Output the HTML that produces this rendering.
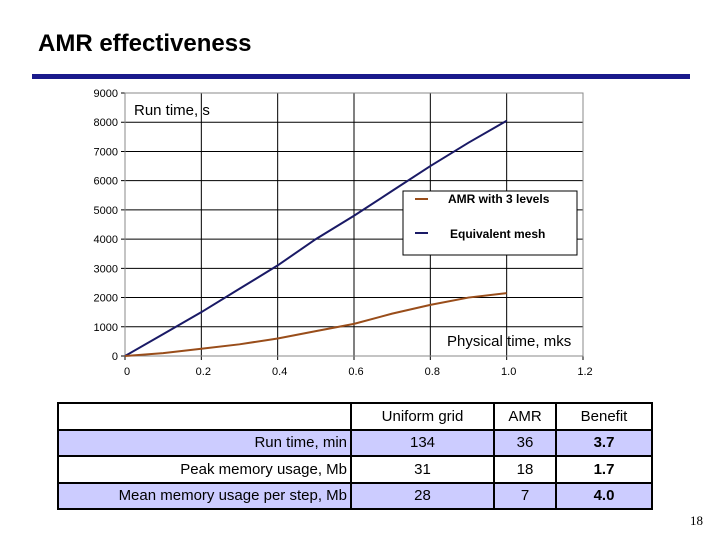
<!DOCTYPE html>
<html><head><meta charset="utf-8"><style>
body{margin:0;width:720px;height:540px;background:#fff;position:relative;font-family:"Liberation Sans",sans-serif;overflow:hidden}
#title{position:absolute;left:38px;top:30px;font-size:24px;font-weight:bold;color:#000}
#rule{position:absolute;left:32px;top:74px;width:658px;height:5px;background:#1a1a8c}
table{position:absolute;left:57px;top:402px;border-collapse:collapse;font-size:15px;table-layout:fixed;width:594px}
td{border:2px solid #000;height:26.5px;padding:0 3px;text-align:center;box-sizing:border-box;white-space:nowrap}
tr.h td{background:#ccccff}
#pg{position:absolute;left:690px;top:513px;font-family:"Liberation Serif",serif;font-size:13px}
</style></head><body>
<div id="title">AMR effectiveness</div>
<div id="rule"></div>
<svg id="chart" width="720" height="400" style="position:absolute;left:0;top:0" font-family="Liberation Sans, sans-serif"></svg>
<table>
<colgroup><col style="width:293px"><col style="width:143px"><col style="width:62px"><col style="width:96px"></colgroup>
<tr><td></td><td>Uniform grid</td><td>AMR</td><td>Benefit</td></tr>
<tr class="h"><td style="text-align:right">Run time, min</td><td>134</td><td>36</td><td><b>3.7</b></td></tr>
<tr><td style="text-align:right">Peak memory usage, Mb</td><td>31</td><td>18</td><td><b>1.7</b></td></tr>
<tr class="h"><td style="text-align:right">Mean memory usage per step, Mb</td><td>28</td><td>7</td><td><b>4.0</b></td></tr>
</table>
<div id="pg">18</div>
<script>
const xTicks=[0,0.2,0.4,0.6,0.8,1.0,1.2];
const xTickLabels=["0","0.2","0.4","0.6","0.8","1.0","1.2"];
const yTicks=[0,1000,2000,3000,4000,5000,6000,7000,8000,9000];
const xs=[0,0.1,0.2,0.3,0.4,0.5,0.6,0.7,0.8,0.9,1.0];
const amr=[0,100,250,400,600,850,1100,1450,1750,2000,2150];
const equiv=[0,750,1500,2300,3100,4000,4800,5650,6500,7300,8050];
const X=v=>125+v/1.2*458, Y=v=>356-v/9000*263;
const svg=document.getElementById('chart');
const NS='http://www.w3.org/2000/svg';
function mk(t,a,txt){const e=document.createElementNS(NS,t);for(const k in a)e.setAttribute(k,a[k]);if(txt!==undefined)e.textContent=txt;svg.appendChild(e);return e;}
yTicks.forEach(v=>{const g=mk('line',{x1:121,x2:583,y1:Y(v),y2:Y(v),stroke:'#000','stroke-width':1});


const t=mk('text',{x:118,y:Y(v)+4,'text-anchor':'end','font-size':11},String(v));

});
xTicks.forEach((v,i)=>{const g=mk('line',{x1:X(v),x2:X(v),y1:Y(9000),y2:360,stroke:'#000','stroke-width':1});


const t=mk('text',{x:X(v)+2,y:375,'text-anchor':'middle','font-size':11},xTickLabels[i]);

});
mk('rect',{x:125,y:Y(9000),width:458,height:263,fill:'none',stroke:'#888'});
const l1=mk('polyline',{points:xs.map((x,i)=>X(x)+','+Y(equiv[i])).join(' '),fill:'none',stroke:'#1a1a66','stroke-width':2});


const l2=mk('polyline',{points:xs.map((x,i)=>X(x)+','+Y(amr[i])).join(' '),fill:'none',stroke:'#994d1a','stroke-width':2});


const lg=mk('rect',{x:403,y:191,width:174,height:64,fill:'#fff',stroke:'#000'});


mk('line',{x1:415,x2:428,y1:199,y2:199,stroke:'#994d1a','stroke-width':2});
mk('text',{x:448,y:203,'font-size':12,'font-weight':'bold'},'AMR with 3 levels');
mk('line',{x1:415,x2:428,y1:233,y2:233,stroke:'#1a1a66','stroke-width':2});
mk('text',{x:450,y:238,'font-size':12,'font-weight':'bold'},'Equivalent mesh');
mk('text',{x:134,y:115,'font-size':15},'Run time, s');
mk('text',{x:447,y:346,'font-size':15},'Physical time, mks');
</script>
</body></html>
